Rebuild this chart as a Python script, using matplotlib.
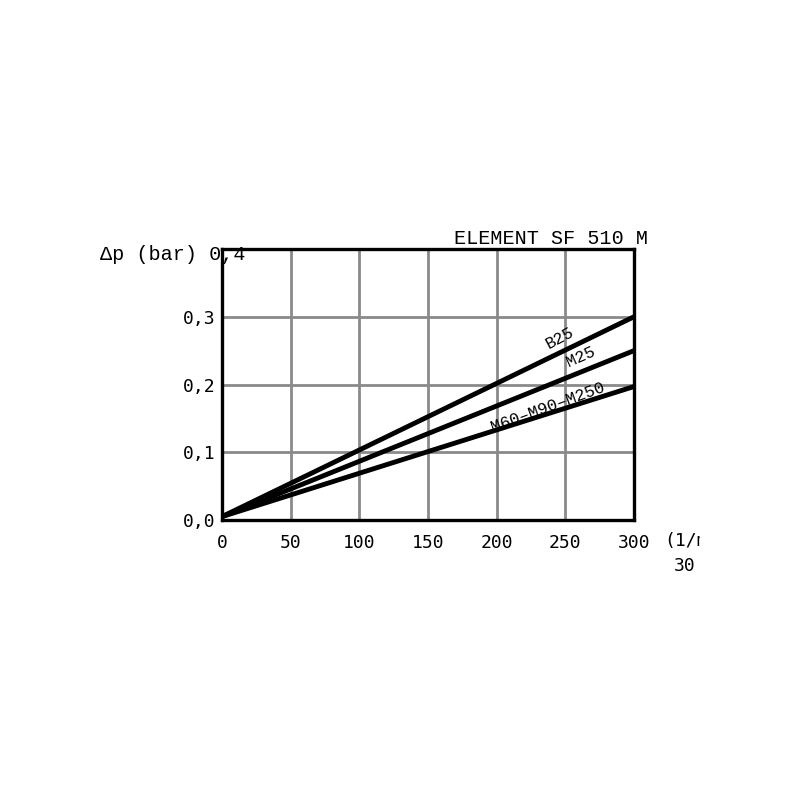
import matplotlib
matplotlib.use('Agg')
import matplotlib.pyplot as plt
from matplotlib.patches import Rectangle

# flow (l/min) and pressure drop (bar)
flow = [0, 300]
dp_b25 = [0.005, 0.30]
dp_m25 = [0.005, 0.25]
dp_m60 = [0.005, 0.197]

xticks = [0, 50, 100, 150, 200, 250, 300]
yticks = [0.0, 0.1, 0.2, 0.3]
ylabels = ['0,0', '0,1', '0,2', '0,3']

MONO = 'Liberation Mono'

fig = plt.figure(figsize=(8, 8), dpi=100)
ax = fig.add_axes([0.2775, 0.35, 0.515, 0.33875])

ax.plot(flow, dp_b25, color='black', lw=3.5, solid_capstyle='butt', zorder=3)
ax.plot(flow, dp_m25, color='black', lw=3.5, solid_capstyle='butt', zorder=3)
ax.plot(flow, dp_m60, color='black', lw=3.5, solid_capstyle='butt', zorder=3)

ax.set_xlim(0, 300)
ax.set_ylim(0, 0.4)
ax.set_xticks(xticks)
ax.set_xticklabels([str(v) for v in xticks], family='DejaVu Sans Mono', fontsize=13)
ax.set_yticks(yticks)
ax.set_yticklabels(ylabels, family='DejaVu Sans Mono', fontsize=13)
ax.set_yticks([0.4], minor=True)
ax.tick_params(axis='x', length=0, pad=10)
ax.tick_params(axis='y', length=0, pad=5)
ax.tick_params(which='minor', length=0)
ax.grid(True, which='both', color='#8a8a8a', lw=2.0, zorder=1)
for s in ax.spines.values():
    s.set_linewidth(2.4)
    s.set_color('black')
    s.set_zorder(4)

ax.text(246, 0.268, 'B25', rotation=28, ha='center', va='center',
        family=MONO, fontsize=12)
ax.text(261, 0.241, 'M25', rotation=24, ha='center', va='center',
        family=MONO, fontsize=12)
ax.text(237, 0.167, 'M60\u2013M90\u2013M250', rotation=20, ha='center',
        va='center', family=MONO, fontsize=12)

fig.text(100 / 800, 1 - 255 / 800, '\u0394p (bar) 0,4', ha='left', va='center',
         family=MONO, fontsize=14.5)
fig.text(648 / 800, 1 - 238 / 800, 'ELEMENT SF 510 M', ha='right', va='center',
         family=MONO, fontsize=14.5)
fig.text(664 / 800, 1 - 541 / 800, '(1/min)', ha='left', va='center',
         family='DejaVu Sans Mono', fontsize=13)
fig.text(674 / 800, 1 - 566 / 800, '30', ha='left', va='center',
         family='DejaVu Sans Mono', fontsize=13)

# the source image is cut off at the right
fig.add_artist(Rectangle((700 / 800, 0), 100 / 800, 1, transform=fig.transFigure,
                         facecolor='white', edgecolor='none', zorder=10))

fig.savefig('out.png', dpi=100, facecolor='white')
